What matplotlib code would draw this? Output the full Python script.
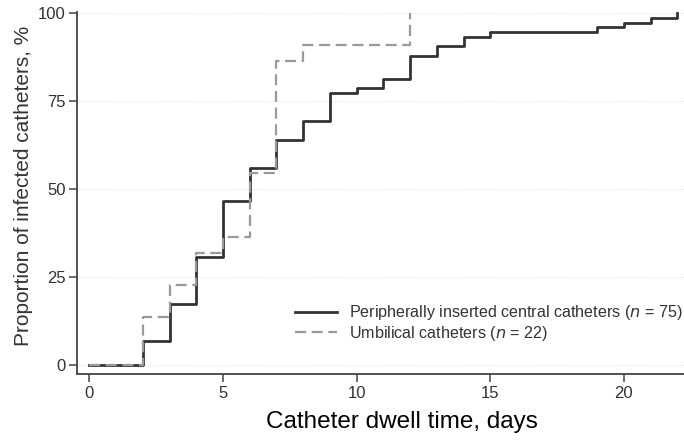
import numpy as np
import matplotlib.pyplot as plt

# cumulative infected catheters
picc_days = [0, 2, 3, 4, 5, 6, 7, 8, 9, 10, 11, 12, 13, 14, 15, 19, 20, 21, 22]
picc_counts = [0, 5, 13, 23, 35, 42, 48, 52, 58, 59, 61, 66, 68, 70, 71, 72, 73, 74, 75]
picc_n = 75

uvc_days = [0, 2, 3, 4, 5, 6, 7, 8, 12]
uvc_counts = [0, 3, 5, 7, 8, 12, 19, 20, 22]
uvc_n = 22

xticks = [0, 5, 10, 15, 20]
yticks = [0, 25, 50, 75, 100]

plt.rcParams['font.family'] = ['Liberation Sans', 'DejaVu Sans']

fig = plt.figure(figsize=(6.84, 4.42), dpi=100)
ax = fig.add_axes([0.113, 0.154, 0.887, 0.819])

picc_pct = np.array(picc_counts) / picc_n * 100
uvc_pct = np.array(uvc_counts) / uvc_n * 100

ax.step(picc_days, picc_pct, where='post', color='#333333', lw=2.0,
        label='Peripherally inserted central catheters ($\\it{n}$ = 75)', zorder=3)
ax.step(uvc_days, uvc_pct, where='post', color='#9a9a9a', lw=1.6,
        dashes=(5, 2.5), label='Umbilical catheters ($\\it{n}$ = 22)', zorder=4)

ax.set_xlim(-0.45, 22.25)
ax.set_ylim(-2.6, 100.4)
ax.set_xticks(xticks)
ax.set_yticks(yticks)

ax.grid(axis='y', color='#dddddd', lw=0.7, ls=':')
ax.set_axisbelow(True)

for s in ['top', 'right']:
    ax.spines[s].set_visible(False)
ax.spines['left'].set_color('#444444')
ax.spines['bottom'].set_color('#444444')
ax.spines['left'].set_linewidth(1.3)
ax.spines['bottom'].set_linewidth(1.3)
ax.tick_params(colors='#444444', labelcolor='#333333', labelsize=12,
               length=5.5, width=1.1, direction='out', pad=3)

ax.set_ylabel('Proportion of infected catheters, %', fontsize=15,
              color='#333333')
ax.yaxis.set_label_coords(-0.0725, 0.519)
ax.set_xlabel('Catheter dwell time, days', fontsize=17.5, color='black')
ax.xaxis.set_label_coords(0.535, -0.103)

leg = ax.legend(loc='lower right', bbox_to_anchor=(1.022, 0.046), frameon=False,
                fontsize=11.6, handlelength=2.65, handletextpad=0.75,
                labelspacing=0.1, labelcolor='#333333')

fig.savefig('out.png', dpi=100)
